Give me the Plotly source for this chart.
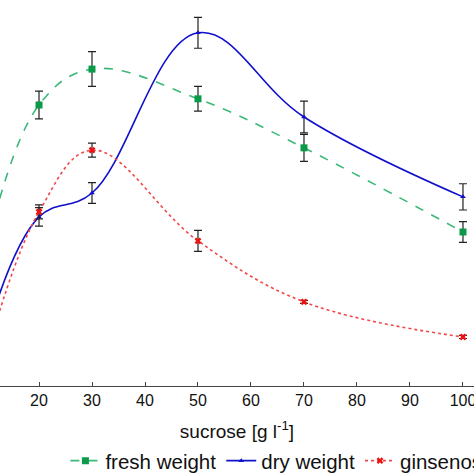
import plotly.graph_objects as go

sucrose = [10, 20, 30, 50, 70, 100]

fresh_weight = [35.0, 72.8, 82.1, 74.4, 61.7, 39.9]
fresh_err = [3.0, 3.6, 4.5, 3.2, 3.5, 2.7]

dry_weight = [13.0, 43.8, 50.0, 91.5, 69.7, 49.0]
dry_err = [2.0, 2.4, 2.7, 4.0, 4.1, 3.4]

ginsenosides = [7.5, 45.1, 61.1, 37.6, 21.8, 12.7]
gins_err = [1.0, 1.8, 1.8, 2.7, 0.4, 0.4]

series = [
    ("fresh weight", fresh_weight, fresh_err, "#3cb878", "dash", "square", 7, "#0a9a4a"),
    ("dry weight", dry_weight, dry_err, "#1010cc", "solid", "triangle-up", 5, "#1010cc"),
    ("ginsenosides", ginsenosides, gins_err, "#f04848", "dot", "x", 6, "#ee1111"),
]

fig = go.Figure()
for name, ys, err, col, dash, sym, size, mcol in series:
    fig.add_trace(go.Scatter(
        x=sucrose, y=ys, name=name, mode="lines+markers",
        line=dict(color=col, dash=dash, width=1.6, shape="spline", smoothing=1.1),
        marker=dict(symbol=sym, size=size, color=mcol),
        error_y=dict(type="data", array=err, visible=True, color="#222222",
                     thickness=1.2, width=4),
    ))

fig.update_layout(
    width=474, height=474,
    margin=dict(l=0, r=0, t=0, b=88, autoexpand=False),
    plot_bgcolor="white", paper_bgcolor="white",
    font=dict(family="Liberation Sans, Arial, sans-serif", size=16, color="#111111"),
    xaxis=dict(
        range=[12.64, 102.08], dtick=10, tick0=0, automargin=False,
        ticklabeloverflow="allow",
        showline=True, linecolor="#444444", linewidth=1.2,
        ticks="inside", ticklen=4, tickcolor="#444444",
        showgrid=False, zeroline=False,
        title=dict(text="sucrose [g l<sup>-1</sup>]", font=dict(size=19), standoff=16),
        tickfont=dict(size=16),
    ),
    yaxis=dict(range=[0, 100], visible=False),
    legend=dict(orientation="h", x=0.138, xanchor="left", y=-0.142, yanchor="top",
                font=dict(size=20.5), itemwidth=30, tracegroupgap=0,
                bgcolor="rgba(0,0,0,0)"),
    showlegend=True,
)

fig.write_html("out.html", config={"displayModeBar": False},
               post_script="document.body.style.margin='0';")
